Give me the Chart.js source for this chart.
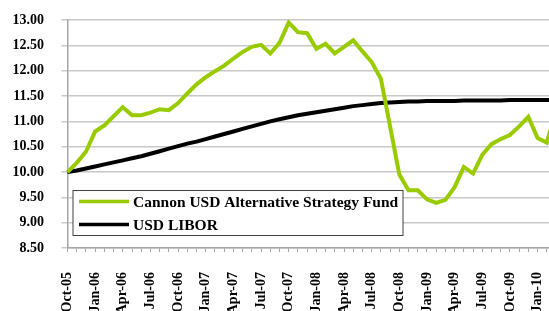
<!DOCTYPE html>
<html>
<head>
<meta charset="utf-8">
<title>Cannon USD Alternative Strategy Fund vs USD LIBOR</title>
<script src="https://cdn.jsdelivr.net/npm/chart.js@4.4.1/dist/chart.umd.min.js"></script>
<style>
    html, body {
        margin: 0;
        padding: 0;
        background: #ffffff;
        overflow: hidden;
    }
    /* the source picture is cropped on the right, so the canvas is a bit wider than the window */
    .chart-wrap {
        position: relative;
        width: 549px;
        height: 311px;
        overflow: hidden;
    }
</style>
</head>
<body>
<div class="chart-wrap">
    <canvas id="perfChart" width="556" height="311"></canvas>
</div>
<script>
// Month labels, Oct-05 .. Mar-10 (last one runs off the right edge)
const months = [
    'Oct-05', 'Nov-05', 'Dec-05', 'Jan-06', 'Feb-06', 'Mar-06', 'Apr-06', 'May-06', 'Jun-06',
    'Jul-06', 'Aug-06', 'Sep-06', 'Oct-06', 'Nov-06', 'Dec-06', 'Jan-07', 'Feb-07', 'Mar-07',
    'Apr-07', 'May-07', 'Jun-07', 'Jul-07', 'Aug-07', 'Sep-07', 'Oct-07', 'Nov-07', 'Dec-07',
    'Jan-08', 'Feb-08', 'Mar-08', 'Apr-08', 'May-08', 'Jun-08', 'Jul-08', 'Aug-08', 'Sep-08',
    'Oct-08', 'Nov-08', 'Dec-08', 'Jan-09', 'Feb-09', 'Mar-09', 'Apr-09', 'May-09', 'Jun-09',
    'Jul-09', 'Aug-09', 'Sep-09', 'Oct-09', 'Nov-09', 'Dec-09', 'Jan-10', 'Feb-10', 'Mar-10'
];

const fundValues = [
    10.00, 10.18, 10.40, 10.80, 10.92, 11.10, 11.28, 11.12, 11.12,
    11.17, 11.24, 11.22, 11.36, 11.55, 11.73, 11.87, 11.99, 12.10,
    12.24, 12.37, 12.47, 12.51, 12.34, 12.55, 12.95, 12.76, 12.74,
    12.43, 12.53, 12.34, 12.47, 12.60, 12.38, 12.17, 11.84, 10.90,
    9.95, 9.64, 9.64, 9.46, 9.39, 9.45, 9.70, 10.10, 9.97,
    10.34, 10.55, 10.65, 10.73, 10.90, 11.09, 10.67, 10.58, 11.20
];

const liborValues = [
    10.00, 10.03, 10.07, 10.11, 10.15, 10.19, 10.23, 10.27, 10.31,
    10.36, 10.41, 10.46, 10.51, 10.56, 10.60, 10.65, 10.70, 10.75,
    10.80, 10.85, 10.90, 10.95, 11.00, 11.04, 11.08, 11.12, 11.15,
    11.18, 11.21, 11.24, 11.27, 11.30, 11.32, 11.34, 11.36, 11.37,
    11.38, 11.39, 11.39, 11.40, 11.40, 11.40, 11.40, 11.41, 11.41,
    11.41, 11.41, 11.41, 11.42, 11.42, 11.42, 11.42, 11.42, 11.42
];

const seriesNames = ['Cannon USD Alternative Strategy Fund', 'USD LIBOR'];
const seriesColors = ['#99cc00', '#000000'];

const yTicks = { min: 8.5, max: 13.0, step: 0.5 };

const SERIF_BOLD = { family: '"Liberation Serif", "DejaVu Serif", serif', weight: 'bold', size: 14 };

// legend box drawn inside the plot, Excel style
const insideLegend = {
    id: 'insideLegend',
    afterDatasetsDraw(chart) {
        const ctx = chart.ctx;
        const area = chart.chartArea;
        const x = area.left + 5.5;
        const y = area.top + 170.5;
        const w = 330;
        const h = 45;

        ctx.save();
        ctx.fillStyle = '#ffffff';
        ctx.fillRect(x, y, w, h);
        ctx.strokeStyle = '#404040';
        ctx.lineWidth = 1;
        ctx.strokeRect(x, y, w, h);

        ctx.font = 'bold 15.5px "Liberation Serif", "DejaVu Serif", serif';
        ctx.textBaseline = 'middle';
        ctx.fillStyle = '#000000';

        chart.data.datasets.forEach((ds, i) => {
            const rowY = y + 11 + i * 23;
            ctx.strokeStyle = ds.borderColor;
            ctx.lineWidth = 3.5;
            ctx.beginPath();
            ctx.moveTo(x + 6, rowY);
            ctx.lineTo(x + 56, rowY);
            ctx.stroke();
            ctx.fillText(ds.label, x + 60, rowY + 1);
        });
        ctx.restore();
    }
};

const ctx = document.getElementById('perfChart').getContext('2d');

new Chart(ctx, {
    type: 'line',
    data: {
        labels: months,
        datasets: [
            {
                label: seriesNames[0],
                data: fundValues,
                borderColor: seriesColors[0],
                backgroundColor: seriesColors[0],
                borderWidth: 4,
                pointRadius: 0,
                tension: 0,
                order: 0
            },
            {
                label: seriesNames[1],
                data: liborValues,
                borderColor: seriesColors[1],
                backgroundColor: seriesColors[1],
                borderWidth: 4,
                pointRadius: 0,
                tension: 0,
                order: 1
            }
        ]
    },
    options: {
        responsive: false,
        animation: false,
        layout: {
            padding: { top: 20, right: 0, bottom: 0, left: 0 }
        },
        plugins: {
            legend: { display: false },
            tooltip: { enabled: false }
        },
        scales: {
            x: {
                type: 'category',
                offset: false,
                afterFit: (scale) => {
                    scale.height = 63;
                    scale.paddingLeft = 0;
                    scale.paddingRight = 0;
                },
                border: { display: true, color: '#a6a6a6', width: 1.5 },
                grid: {
                    drawOnChartArea: false,
                    drawTicks: true,
                    tickLength: 4,
                    color: '#a6a6a6'
                },
                ticks: {
                    autoSkip: false,
                    minRotation: 90,
                    maxRotation: 90,
                    padding: 20,
                    color: '#000000',
                    font: SERIF_BOLD,
                    callback: (value, index) => (index % 3 === 0 ? months[index] : '')
                }
            },
            y: {
                min: yTicks.min,
                max: yTicks.max,
                afterFit: (scale) => {
                    scale.width = 67.5;
                    scale.paddingTop = 0;
                    scale.paddingBottom = 0;
                },
                border: { display: true, color: '#a6a6a6', width: 1.5 },
                grid: {
                    color: '#c8c8c8',
                    lineWidth: 1.5,
                    drawTicks: true,
                    tickLength: 6
                },
                ticks: {
                    stepSize: yTicks.step,
                    padding: 17.5,
                    color: '#000000',
                    font: SERIF_BOLD,
                    callback: (value) => value.toFixed(2)
                }
            }
        }
    },
    plugins: [insideLegend]
});
</script>
</body>
</html>
